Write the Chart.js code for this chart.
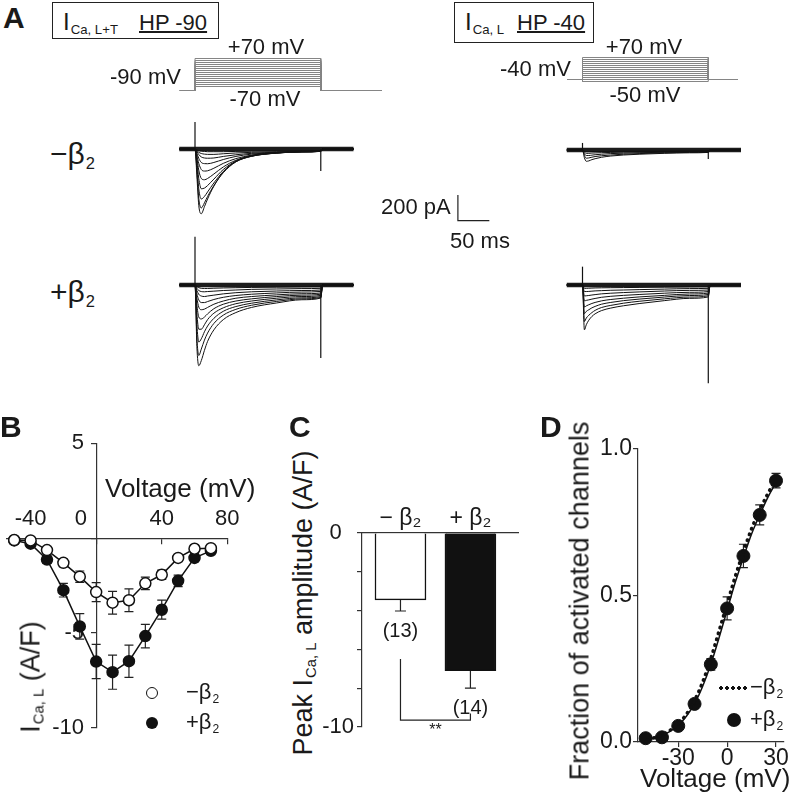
<!DOCTYPE html>
<html>
<head>
<meta charset="utf-8">
<script src="https://cdn.jsdelivr.net/npm/chart.js@4.4.1/dist/chart.umd.min.js"></script>
<style>
body { margin:0; background:#fff; }
#fig { position:relative; width:800px; height:805px; overflow:hidden; background:#fff;
       font-family:"Liberation Sans", Arial, sans-serif; color:#1a1a1a; }
#fig canvas { position:absolute; }
.t { position:absolute; white-space:nowrap; line-height:1; z-index:2; }
.c { transform:translateX(-50%); }
.lbl { font-weight:bold; font-size:30px; }
.box { position:absolute; border:1.5px solid #222; box-sizing:border-box; }
.s { font-size:0.55em; position:relative; top:0.3em; margin-left:1px; }
.rot { transform:translate(-50%,-50%) rotate(-90deg); }
.dot { position:absolute; border-radius:50%; box-sizing:border-box; z-index:2; }
</style>
</head>
<body>
<div id="fig">
  <!-- panel A text -->
  <div class="t lbl" style="left:3px;top:3px">A</div>
  <div class="box" style="left:52px;top:2px;width:167px;height:37px"></div>
  <div class="t" style="left:63px;top:10px;font-size:24px">I<span class="s">Ca, L+T</span></div>
  <div class="t" style="left:139px;top:12px;font-size:22px;text-decoration:underline;text-decoration-thickness:1.5px">HP -90</div>
  <div class="box" style="left:454px;top:2px;width:140px;height:41px"></div>
  <div class="t" style="left:465px;top:10px;font-size:24px">I<span class="s">Ca, L</span></div>
  <div class="t" style="left:517px;top:12px;font-size:22px;text-decoration:underline;text-decoration-thickness:1.5px">HP -40</div>

  <div class="t c" style="left:266px;top:36px;font-size:22px">+70 mV</div>
  <div class="t" style="left:110px;top:66px;font-size:22px">-90 mV</div>
  <div class="t c" style="left:265px;top:88px;font-size:22px">-70 mV</div>
  <div class="t c" style="left:644px;top:36px;font-size:22px">+70 mV</div>
  <div class="t" style="left:500px;top:58px;font-size:22px">-40 mV</div>
  <div class="t c" style="left:645px;top:84px;font-size:22px">-50 mV</div>

  <div class="t" style="left:50px;top:139px;font-size:30px">−β<span class="s">2</span></div>
  <div class="t" style="left:50px;top:277px;font-size:30px">+β<span class="s">2</span></div>
  <div class="t" style="left:381px;top:196px;font-size:22px">200 pA</div>
  <div class="t" style="left:450px;top:230px;font-size:22px">50 ms</div>

  <!-- panel B text -->
  <div class="t lbl" style="left:0px;top:412px">B</div>
  <div class="t" style="left:105px;top:475px;font-size:26px">Voltage (mV)</div>
  <div class="t rot" style="left:31px;top:677px;font-size:27px">I<span class="s">Ca, L</span> (A/F)</div>
  <div class="dot" style="left:146px;top:687px;width:12px;height:12px;border:1.5px solid #111;background:#fff"></div>
  <div class="dot" style="left:146px;top:717px;width:12px;height:12px;background:#111"></div>
  <div class="t" style="left:186px;top:681px;font-size:22px">−β<span class="s">2</span></div>
  <div class="t" style="left:186px;top:711px;font-size:22px">+β<span class="s">2</span></div>

  <!-- panel C text -->
  <div class="t lbl" style="left:289px;top:412px">C</div>
  <div class="t rot" style="left:303px;top:603px;font-size:27px">Peak I<span class="s">Ca, L</span> amplitude (A/F)</div>

  <!-- panel D text -->
  <div class="t lbl" style="left:540px;top:412px">D</div>
  <div class="t rot" style="left:580px;top:601px;font-size:27px">Fraction of activated channels</div>
  <div class="t" style="left:640px;top:765px;font-size:26px">Voltage (mV)</div>
  <div class="t" style="left:718px;top:685px;width:30px;height:6px;background:radial-gradient(circle, #111 1.6px, transparent 2px);background-size:6px 6px"></div>
  <div class="dot" style="left:727px;top:713px;width:14px;height:14px;background:#111"></div>
  <div class="t" style="left:750px;top:676px;font-size:22px">−β<span class="s">2</span></div>
  <div class="t" style="left:750px;top:708px;font-size:22px">+β<span class="s">2</span></div>
</div>

<script>
// ---- panel A: voltage protocols ----
var stepStart = 0, stepEnd = 200;          // ms
var protoStart = -24, protoEndL = 297, protoEndR = 247;
var hpLeft = -90, hpRight = -40;           // mV
var stepsLeft  = [-70,-60,-50,-40,-30,-20,-10,0,10,20,30,40,50,60,70];
var stepsRight = [-50,-40,-30,-20,-10,0,10,20,30,40,50,60,70];

// ---- panel A: current traces (pA), sampled at traceT (ms) ----
var traceT = [-25, 0, 3, 6, 10, 15, 20, 30, 45, 65, 90, 130, 170, 200, 203, 252];

// -beta2, HP -90 (top left)
var tracesTL = [
  [0,0,-210,-440,-505,-450,-390,-290,-180,-95,-50,-28,-20,-17,0,0],
  [0,0,-170,-385,-460,-420,-370,-285,-185,-100,-55,-30,-21,-17,0,0],
  [0,0,-130,-310,-390,-370,-335,-265,-175,-100,-57,-31,-22,-18,0,0],
  [0,0,-95,-230,-310,-305,-285,-235,-160,-95,-56,-32,-22,-18,0,0],
  [0,0,-68,-165,-230,-240,-230,-195,-140,-88,-54,-32,-22,-19,0,0],
  [0,0,-50,-112,-160,-172,-170,-150,-112,-75,-48,-30,-22,-19,0,0],
  [0,0,-34,-73,-105,-114,-115,-105,-82,-58,-40,-27,-21,-19,0,0],
  [0,0,-21,-43,-62,-70,-72,-70,-58,-45,-34,-26,-21,-19,0,0],
  [0,0,-13,-26,-35,-40,-42,-42,-37,-31,-26,-21,-19,-17,0,0],
  [0,0,-7,-13,-17,-19,-21,-21,-21,-19,-17,-15,-14,-13,0,0]
];
// +beta2, HP -90 (bottom left)
var tracesBL = [
  [0,0,-480,-630,-590,-510,-440,-350,-270,-215,-175,-140,-115,-102,0,0],
  [0,0,-410,-550,-500,-430,-375,-300,-235,-190,-158,-128,-108,-97,0,0],
  [0,0,-310,-445,-420,-365,-320,-260,-205,-168,-142,-116,-100,-90,0,0],
  [0,0,-225,-345,-345,-310,-270,-220,-178,-146,-125,-103,-90,-81,0,0],
  [0,0,-155,-250,-265,-250,-225,-185,-150,-125,-108,-90,-79,-72,0,0],
  [0,0,-103,-172,-193,-188,-175,-150,-125,-103,-90,-77,-68,-62,0,0],
  [0,0,-69,-116,-137,-137,-129,-113,-96,-82,-72,-62,-55,-50,0,0],
  [0,0,-43,-73,-86,-90,-86,-79,-69,-60,-53,-47,-43,-39,0,0],
  [0,0,-26,-43,-51,-53,-51,-48,-43,-39,-34,-31,-28,-26,0,0],
  [0,0,-13,-21,-26,-27,-27,-25,-23,-21,-19,-17,-15,-14,0,0]
];
// -beta2, HP -40 (top right)
var tracesTR = [
  [0,0,-60,-88,-85,-75,-68,-57,-47,-39,-33,-26,-22,-19,0,0],
  [0,0,-43,-64,-62,-56,-51,-45,-39,-33,-28,-22,-19,-17,0,0],
  [0,0,-30,-43,-43,-40,-37,-33,-28,-25,-21,-18,-15,-14,0,0],
  [0,0,-17,-26,-26,-24,-23,-21,-19,-17,-15,-13,-11,-10,0,0],
  [0,0,-9,-13,-13,-12,-12,-11,-10,-9,-9,-8,-7,-6,0,0]
];
// +beta2, HP -40 (bottom right)
var tracesBR = [
  [0,0,-350,-310,-275,-245,-225,-200,-180,-162,-145,-122,-104,-93,0,0],
  [0,0,-285,-258,-236,-215,-198,-176,-159,-142,-127,-108,-94,-84,0,0],
  [0,0,-223,-206,-193,-178,-167,-150,-136,-122,-110,-94,-82,-74,0,0],
  [0,0,-172,-163,-154,-144,-136,-124,-113,-103,-93,-81,-70,-63,0,0],
  [0,0,-124,-120,-116,-110,-105,-96,-88,-81,-74,-64,-57,-51,0,0],
  [0,0,-86,-84,-82,-78,-75,-69,-64,-59,-54,-47,-42,-39,0,0],
  [0,0,-51,-51,-50,-48,-46,-44,-41,-39,-36,-32,-28,-26,0,0],
  [0,0,-26,-26,-25,-24,-23,-22,-21,-20,-19,-17,-15,-14,0,0]
];
// capacitive transients at step on / off (pA): TL, BL, TR, BR
var spikeOn  = [211, 377, 55, 143];
var spikeOff = [-172, -569, -70, -767];
// scale bar
var barPA = 200, barMs = 50, barAtT = 418, barAtI = -559;

// ---- panel B: I-V ----
var ivV = [-50,-40,-30,-20,-10,0,10,20,30,40,50,60,70];
var ivMinus    = [-0.1,-0.12,-0.63,-1.3,-2.03,-2.84,-3.4,-3.27,-2.38,-1.93,-1.04,-0.56,-0.53];
var ivMinusErr = [0.1,0.1,0.15,0.2,0.3,0.5,0.6,0.6,0.33,0.25,0.15,0.15,0.1];
var ivPlus     = [-0.12,-0.29,-1.13,-2.74,-4.65,-6.5,-7.06,-6.48,-5.16,-3.77,-2.25,-1.04,-0.67];
var ivPlusErr  = [0.1,0.12,0.2,0.36,0.67,0.9,0.9,0.85,0.62,0.5,0.3,0.2,0.15];
var ivXTicks = [-40, 0, 40, 80];
var ivYTicks = [5, 0, -5, -10];

// ---- panel C: peak amplitude ----
var peakCats = ['− β₂', '+ β₂'];
var peakVal = [-3.45, -7.1];
var peakErr = [0.57, 0.9];
var peakN = ['(13)', '(14)'];
var peakYTicks = [0, -2, -4, -6, -8, -10];
var sigBracket = [-6.5, -9.65, -9.3];
var sigLabel = '**';

// ---- panel D: activation ----
var actV = [-50,-40,-30,-20,-10,0,10,20,30];
var actPlus    = [0.013,0.016,0.055,0.13,0.265,0.456,0.635,0.775,0.892];
var actPlusErr = [0.01,0.01,0.012,0.015,0.02,0.039,0.04,0.034,0.025];
var fitV      = [-50,-45,-40,-35,-30,-25,-20,-15,-10,-5,0,5,10,15,20,25,30];
var fitPlus   = [0.008,0.013,0.022,0.036,0.057,0.088,0.13,0.19,0.265,0.355,0.45,0.545,0.63,0.71,0.775,0.835,0.885];
var fitMinusV = [-45,-40,-35,-30,-25,-20,-15,-10,-5,0,5,10,15,20,25,28];
var fitMinus  = [0.014,0.024,0.04,0.062,0.095,0.142,0.205,0.285,0.378,0.472,0.565,0.65,0.728,0.792,0.848,0.878];
var actXTicks = [-30, 0, 30];
var actYTicks = [0, 0.5, 1];

// ------------------------------------------------------------
var FONT = '"Liberation Sans", Arial, sans-serif';
Chart.defaults.font.family = FONT;
Chart.defaults.color = '#1a1a1a';
var msPerPx = 1.59, pAPerPx = 7.8, mVPerPx = 5;

function addCanvas(b){
  var c = document.createElement('canvas');
  c.width = b.w; c.height = b.h;
  c.style.left = b.left + 'px'; c.style.top = b.top + 'px';
  document.getElementById('fig').appendChild(c);
  return c;
}

function pts(xs, ys){ return xs.map(function(x, i){ return {x: x, y: ys[i]}; }); }

// chart with hidden axes, pixel scale fixed by x0/y0 and units per px
function rawChart(b, x0, y0, xPer, yPer, datasets){
  return new Chart(addCanvas(b), {
    type: 'line',
    data: {datasets: datasets},
    options: {
      devicePixelRatio: 1, responsive: false, animation: false,
      layout: {padding: 0},
      plugins: {legend: {display: false}, tooltip: {enabled: false}},
      elements: {point: {radius: 0}, line: {tension: 0}},
      scales: {
        x: {type: 'linear', display: false, min: -(x0 - b.left) * xPer, max: (b.left + b.w - x0) * xPer},
        y: {type: 'linear', display: false, min: -(b.top + b.h - y0) * yPer, max: (y0 - b.top) * yPer}
      }
    }
  });
}

function protoSets(hp, steps, tEnd){
  return steps.map(function(v){
    return {data: [{x: protoStart, y: hp}, {x: stepStart, y: hp}, {x: stepStart, y: v},
                   {x: stepEnd, y: v}, {x: stepEnd, y: hp}, {x: tEnd, y: hp}],
            borderColor: '#858585', borderWidth: 1};
  });
}

function traceSets(traces, k){
  var ds = [];
  traces.forEach(function(tr){
    ds.push({data: pts(traceT, tr), borderColor: '#111', borderWidth: 1, cubicInterpolationMode: 'monotone'});
  });
  ds.push({data: [{x: stepStart, y: 0}, {x: stepStart, y: spikeOn[k]}], borderColor: '#111', borderWidth: 1.2});
  ds.push({data: [{x: stepEnd, y: 0}, {x: stepEnd, y: spikeOff[k]}], borderColor: '#111', borderWidth: 1.2});
  // noisy holding current band
  ds.push({data: [{x: traceT[0], y: 0}, {x: traceT[traceT.length - 1], y: 0}], borderColor: '#1c1c1c', borderWidth: 4.5});
  return ds;
}

// protocols
rawChart({left: 175, top: 48, w: 212, h: 48}, 195, 72.5, msPerPx, mVPerPx, protoSets(hpLeft, stepsLeft, protoEndL));
rawChart({left: 560, top: 48, w: 185, h: 40}, 582.5, 71.5, msPerPx, mVPerPx, protoSets(hpRight, stepsRight, protoEndR));

// traces
var tl = traceSets(tracesTL, 0);
tl.push({data: [{x: barAtT, y: barAtI + barPA}, {x: barAtT, y: barAtI}, {x: barAtT + barMs, y: barAtI}],
         borderColor: '#222', borderWidth: 1.2});
rawChart({left: 179, top: 110, w: 321, h: 115}, 195, 149, msPerPx, pAPerPx, tl);
rawChart({left: 179, top: 225, w: 176, h: 170}, 195, 285, msPerPx, pAPerPx, traceSets(tracesBL, 1));
rawChart({left: 565, top: 110, w: 178, h: 115}, 582.5, 150, msPerPx, pAPerPx, traceSets(tracesTR, 2));
rawChart({left: 565, top: 225, w: 178, h: 170}, 582.5, 285, msPerPx, pAPerPx, traceSets(tracesBR, 3));

// error bars from ds.errors
var errorBars = {
  id: 'errorBars',
  beforeDatasetsDraw: function(chart){
    var ctx = chart.ctx, ys = chart.scales.y;
    chart.data.datasets.forEach(function(ds, i){
      if (!ds.errors) return;
      var meta = chart.getDatasetMeta(i);
      ctx.save();
      ctx.strokeStyle = '#222'; ctx.lineWidth = 1.2;
      meta.data.forEach(function(el, j){
        var v = ds.data[j].y, e = ds.errors[j], cw = ds.capW / 2;
        var lo = ys.getPixelForValue(v - e);
        var hi = ds.downOnly ? ys.getPixelForValue(v) : ys.getPixelForValue(v + e);
        ctx.beginPath();
        ctx.moveTo(el.x, hi); ctx.lineTo(el.x, lo);
        ctx.moveTo(el.x - cw, lo); ctx.lineTo(el.x + cw, lo);
        if (!ds.downOnly) { ctx.moveTo(el.x - cw, hi); ctx.lineTo(el.x + cw, hi); }
        ctx.stroke();
      });
      ctx.restore();
    });
  }
};

function fixTicks(arr){ return function(s){ s.ticks = arr.map(function(v){ return {value: v}; }); }; }
var axisGrid = {drawOnChartArea: false, color: '#333', tickLength: 5, lineWidth: 1.2};
var axisBorder = {color: '#333', width: 1.2};

// ---- B ----
new Chart(addCanvas({left: 0, top: 425, w: 245, h: 345}), {
  type: 'line',
  data: {datasets: [
    {data: pts(ivV, ivMinus), errors: ivMinusErr, capW: 9, borderColor: '#111', borderWidth: 1.5,
     pointRadius: 5.5, pointBackgroundColor: '#fff', pointBorderColor: '#111', pointBorderWidth: 1.5, clip: false},
    {data: pts(ivV, ivPlus), errors: ivPlusErr, capW: 9, borderColor: '#111', borderWidth: 1.5,
     pointRadius: 5.5, pointBackgroundColor: '#111', pointBorderColor: '#111', clip: false}
  ]},
  options: {
    devicePixelRatio: 1, responsive: false, animation: false,
    layout: {padding: {left: 0, top: 10, right: 17.7, bottom: 42}},
    plugins: {legend: {display: false}, tooltip: {enabled: false}},
    scales: {
      x: {type: 'linear', min: -54.4, max: 80, position: {y: 0}, grid: axisGrid, border: axisBorder,
          afterBuildTicks: fixTicks(ivXTicks),
          ticks: {font: {size: 22}, padding: -37, callback: function(v){ return v === 0 ? '0     ' : v; }}},
      y: {type: 'linear', min: -10, max: 5, position: {x: 0}, grid: axisGrid, border: axisBorder,
          afterBuildTicks: fixTicks(ivYTicks),
          ticks: {font: {size: 22}, padding: 5, callback: function(v){ return v === 0 ? '' : v + '  '; }}}
    }
  },
  plugins: [errorBars]
});

// ---- C ----
var peakNotes = {
  id: 'peakNotes',
  afterDatasetsDraw: function(chart){
    var ctx = chart.ctx, xs = chart.scales.x, ys = chart.scales.y;
    ctx.save();
    ctx.fillStyle = '#1a1a1a'; ctx.textAlign = 'center'; ctx.textBaseline = 'middle';
    ctx.font = '20px ' + FONT;
    peakVal.forEach(function(v, i){
      ctx.fillText(peakN[i], xs.getPixelForValue(i + 1), ys.getPixelForValue(v - peakErr[i]) + 20);
    });
    var xl = xs.getPixelForValue(1), xr = xs.getPixelForValue(2);
    ctx.strokeStyle = '#222'; ctx.lineWidth = 1.2;
    ctx.beginPath();
    ctx.moveTo(xl, ys.getPixelForValue(sigBracket[0]));
    ctx.lineTo(xl, ys.getPixelForValue(sigBracket[1]));
    ctx.lineTo(xr, ys.getPixelForValue(sigBracket[1]));
    ctx.lineTo(xr, ys.getPixelForValue(sigBracket[2]));
    ctx.stroke();
    ctx.font = '16px ' + FONT;
    ctx.fillText(sigLabel, (xl + xr) / 2, ys.getPixelForValue(sigBracket[1]) + 10);
    ctx.restore();
  }
};

new Chart(addCanvas({left: 320, top: 480, w: 210, h: 290}), {
  type: 'bar',
  data: {datasets: [
    {data: pts([1, 2], peakVal), errors: peakErr, downOnly: true, capW: 11,
     backgroundColor: ['#fff', '#111'], borderColor: '#111', borderWidth: 1.5, barThickness: 51}
  ]},
  options: {
    devicePixelRatio: 1, responsive: false, animation: false,
    layout: {padding: {left: 0, top: 0, right: 12, bottom: 43}},
    plugins: {legend: {display: false}, tooltip: {enabled: false}},
    scales: {
      x: {type: 'linear', min: 0.45, max: 2.68, position: 'top', offset: false,
          grid: {display: false, drawTicks: false, offset: false}, border: axisBorder,
          afterBuildTicks: fixTicks([1, 2]),
          afterFit: function(s){ s.height = 53; },
          ticks: {font: {size: 23}, padding: 1, callback: function(v){ return peakCats[v - 1]; }}},
      y: {type: 'linear', min: -10, max: 0, grid: axisGrid, border: axisBorder,
          afterBuildTicks: fixTicks(peakYTicks),
          afterFit: function(s){ s.width = 42; },
          ticks: {font: {size: 22}, padding: 3,
                  callback: function(v){ return v === 0 ? '0  ' : (v === -10 ? '-10' : ''); }}}
    }
  },
  plugins: [errorBars, peakNotes]
});

// ---- D ----
new Chart(addCanvas({left: 580, top: 430, w: 220, h: 375}), {
  type: 'line',
  data: {datasets: [
    {data: pts(fitMinusV, fitMinus), borderColor: '#111', borderWidth: 3.5, borderDash: [0.5, 5.6],
     borderCapStyle: 'round', pointRadius: 0, cubicInterpolationMode: 'monotone'},
    {data: pts(fitV, fitPlus), borderColor: '#111', borderWidth: 1.5, pointRadius: 0, cubicInterpolationMode: 'monotone'},
    {data: pts(actV, actPlus), errors: actPlusErr, capW: 9, showLine: false, pointRadius: 6.5,
     pointBackgroundColor: '#111', pointBorderColor: '#111', clip: false}
  ]},
  options: {
    devicePixelRatio: 1, responsive: false, animation: false,
    layout: {padding: {left: 0, top: 19, right: 16, bottom: 33}},
    plugins: {legend: {display: false}, tooltip: {enabled: false}},
    scales: {
      x: {type: 'linear', min: -54.7, max: 34.9, grid: axisGrid, border: axisBorder,
          afterBuildTicks: fixTicks(actXTicks),
          afterFit: function(s){ s.height = 30; },
          ticks: {font: {size: 23}, padding: -2}},
      y: {type: 'linear', min: 0, max: 1, grid: axisGrid, border: axisBorder,
          afterBuildTicks: fixTicks(actYTicks),
          afterFit: function(s){ s.width = 58; },
          ticks: {font: {size: 23}, padding: 1, callback: function(v){ return v.toFixed(1); }}}
    }
  },
  plugins: [errorBars]
});
</script>
</body>
</html>
